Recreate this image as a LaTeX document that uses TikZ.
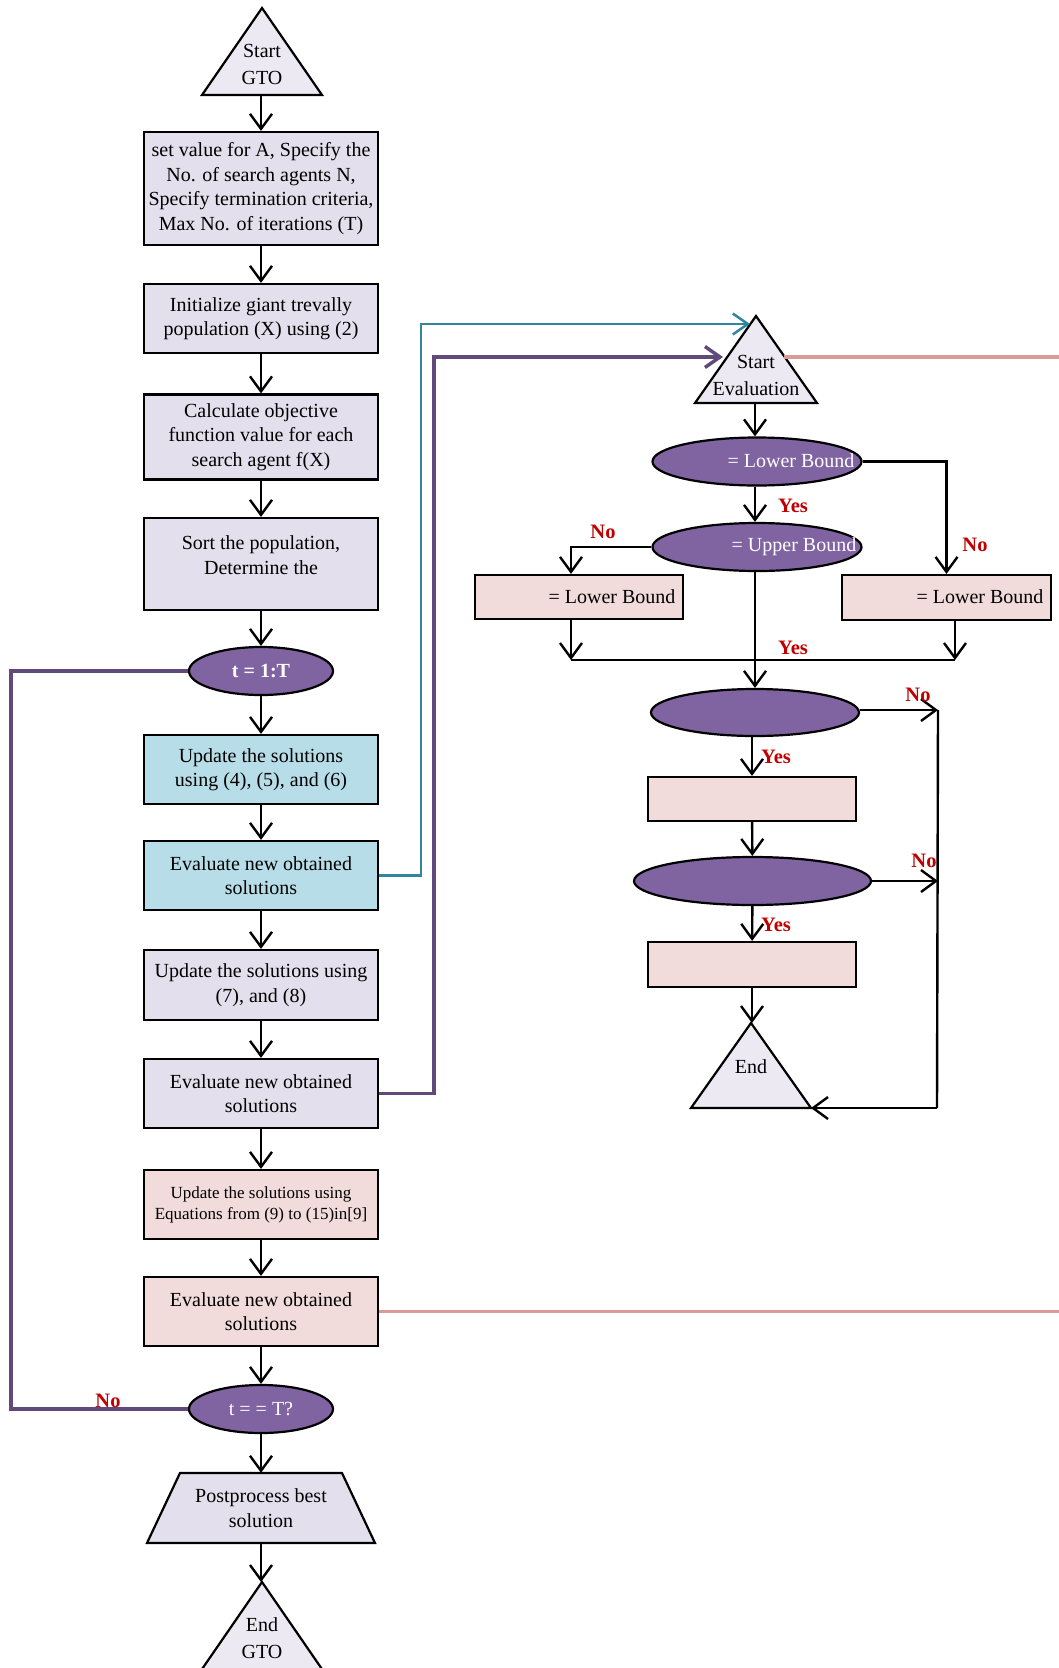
\documentclass[tikz,border=0pt]{standalone}
\usepackage{fontspec}
\setmainfont{Liberation Serif}
\usetikzlibrary{arrows.meta,shapes.geometric}
\definecolor{lav}{HTML}{E4DFEC}
\definecolor{trif}{HTML}{ECE9F2}
\definecolor{cyanf}{HTML}{B7DEE8}
\definecolor{pinkf}{HTML}{F2DCDB}
\definecolor{purf}{HTML}{8064A2}
\definecolor{cyl}{HTML}{31859C}
\definecolor{pul}{HTML}{604A7B}
\definecolor{pil}{HTML}{DA9A98}
\definecolor{redl}{HTML}{C00000}
\tikzset{
  fs/.style={font=\fontsize{20}{24.5}\selectfont},
  box/.style={draw=black, line width=2.2pt, fill=lav, minimum width=234pt, align=center, inner sep=2pt, fs},
  cbox/.style={box, fill=cyanf},
  pbox/.style={box, fill=pinkf},
  rbox/.style={draw=black, line width=2.2pt, fill=pinkf, minimum width=208pt, minimum height=44pt, inner sep=0pt},
  ell/.style={ellipse, draw=black, line width=2.2pt, fill=purf, text=white, inner sep=0pt, fs},
  tri/.style={draw=black, line width=2.2pt, fill=trif, line join=miter},
  ttxt/.style={fs, align=center, inner sep=0pt, font=\fontsize{20}{27}\selectfont},
  lne/.style={draw=black, line width=2.4pt},
  arr/.style={lne, -{Straight Barb[length=15pt,width=22pt]}},
  cyarr/.style={draw=cyl, line width=2.5pt, -{Straight Barb[length=15pt,width=21pt]}},
  puarr/.style={draw=pul, line width=3.5pt, -{Straight Barb[length=15pt,width=21pt]}},
  puline/.style={draw=pul, line width=3.5pt},
  piline/.style={draw=pil, line width=3.2pt},
  lbl/.style={text=redl, font=\fontsize{20.5}{24}\selectfont\bfseries, inner sep=0pt},
  wtxt/.style={text=white, fs, inner sep=0pt}
}
\begin{document}
\begin{tikzpicture}[x=1pt,y=-1pt]
\path[use as bounding box] (0,0) rectangle (1059,1668);

% ---------- left column ----------
\draw[tri] (262,8) -- (322,95) -- (202,95) -- cycle;
\node[ttxt] (sgto) at (262,64) {Start\\GTO};
\coordinate (sgtoB) at (261,95);

\node[box, minimum height=113pt] (b1) at (261,188.5) {set value for A, Specify the\\No. of search agents N,\\Specify termination criteria,\\Max No. of iterations (T)};
\node[box, minimum height=69pt] (b2) at (261,318.5) {Initialize giant trevally\\population (X) using (2)};
\node[box, minimum height=85pt] (b3) at (261,437) {Calculate objective\\function value for each\\search agent f(X)};
\node[box, minimum height=92pt, label={[fs, align=center, yshift=9pt]center:{Sort the population,\\Determine the}}] (b4) at (261,564) {};
\node[ell, minimum width=144pt, minimum height=48pt] (t1) at (261,671) {\textbf{t = 1:T}};
\node[cbox, minimum height=69pt] (c1) at (261,769.5) {Update the solutions\\using (4), (5), and (6)};
\node[cbox, minimum height=69pt] (c2) at (261,875.5) {Evaluate new obtained\\solutions};
\node[box, minimum height=70pt] (b5) at (261,985) {Update the solutions using\\(7), and (8)};
\node[box, minimum height=69pt] (b6) at (261,1093.5) {Evaluate new obtained\\solutions};
\node[pbox, minimum height=69pt, font=\fontsize{17}{21}\selectfont] (p1) at (261,1204.5) {Update the solutions using\\Equations from (9) to (15)in[9]};
\node[pbox, minimum height=69pt] (p2) at (261,1311.5) {Evaluate new obtained\\solutions};
\node[ell, minimum width=144pt, minimum height=48pt] (t2) at (261,1409) {t = = T?};

\draw[tri, fill=lav] (147,1543) -- (180,1473) -- (342,1473) -- (375,1543) -- cycle;
\node[fs, align=center, minimum height=70pt, inner sep=0pt] (post) at (261,1508) {Postprocess best\\solution};

\draw[tri] (262,1582) -- (324,1672) -- (200,1672) -- cycle;
\node[ttxt] (egto) at (262,1638) {End\\GTO};
\coordinate (egtoA) at (261,1582);

\draw[arr] (sgtoB) -- (b1);
\draw[arr] (b1) -- (b2);
\draw[arr] (b2) -- (b3);
\draw[arr] (b3) -- (b4);
\draw[arr] (b4) -- (t1);
\draw[arr] (t1) -- (c1);
\draw[arr] (c1) -- (c2);
\draw[arr] (c2) -- (b5);
\draw[arr] (b5) -- (b6);
\draw[arr] (b6) -- (p1);
\draw[arr] (p1) -- (p2);
\draw[arr] (p2) -- (t2);
\draw[arr] (t2) -- (post);
\draw[arr] (post) -- (egtoA);

% loop back
\coordinate (lp) at (11,671);
\draw[puline] (t1.west) -- (lp) |- (t2.west);
\node[lbl] (no0) at (108,1401) {No};

% ---------- right column ----------
\draw[tri] (756,316) -- (817,403) -- (695,403) -- cycle;
\node[ttxt] (sev) at (756,375) {Start\\Evaluation};
\coordinate (sevB) at (755,403);
\coordinate (cyEnd) at (750,324);
\coordinate (puEnd) at (723,357);
\coordinate (piStart) at (784,357);
\coordinate (rEdge) at (1060,357);

\node[ell, minimum width=209pt, minimum height=48pt] (e1) at (757,461.5) {};
\node[wtxt] (e1t) at (791,461) {= Lower Bound};
\node[ell, minimum width=209pt, minimum height=48pt] (e2) at (757,547) {};
\node[wtxt] (e2t) at (794,547) {= Upper Bound};

\node[rbox] (lb) at (579,597) {};
\node[fs, inner sep=0pt] (lbt) at (612,597) {= Lower Bound};
\node[rbox, minimum width=209pt, minimum height=45pt] (rb) at (946.5,597.5) {};
\node[fs, inner sep=0pt] (rbt) at (980,597) {= Lower Bound};

\node[ell, minimum width=208pt, minimum height=47pt] (e3) at (755,712.5) {};
\node[rbox] (pb3) at (752,799) {};
\node[ell, minimum width=237pt, minimum height=48pt] (e4) at (752.5,881) {};
\node[rbox, minimum height=45pt] (pb4) at (752,964.5) {};

\draw[tri] (751,1023) -- (811,1108) -- (691,1108) -- cycle;
\node[fs, inner sep=0pt] (endt) at (751,1067) {End};
\coordinate (endA) at (752,1023);
\coordinate (endR) at (811,1108);

\draw[arr] (sevB) -- (sevB |- e1.north);
\draw[arr] (e1.south -| sevB) -- (e2.north -| sevB);
\draw[arr] (e1.east) -| (rb.north);
\coordinate (lx) at (571,597);
\draw[arr] (e2.west) -| (lb.north -| lx);
\coordinate (mL) at (571,660);
\coordinate (mR) at (955,660);
\draw[arr] (lb.south -| mL) -- (mL);
\draw[arr] (rb.south -| mR) -- (mR);
\draw[lne] (mL) -- (mR);
\draw[arr] (e2.south -| sevB) -- (e3.north -| sevB);

\draw[arr] (e3.south -| pb3) -- (pb3);
\draw[arr] (pb3) -- (e4);
\draw[arr] (e4) -- (pb4);
\draw[arr] (pb4) -- (endA);

\coordinate (nx) at (938,710);
\coordinate (nxB) at (937,1108);
\draw[arr] (e3.east |- nx) -- (nx);
\draw[arr] (e4.east) -- (e4.east -| nx);
\draw[lne] (nx) -- (nxB);
\draw[arr] (nxB) -- (endR);

\node[lbl] (y1) at (793,506) {Yes};
\node[lbl] (n1) at (603,532) {No};
\node[lbl] (n2) at (975,545) {No};
\node[lbl] (y2) at (793,648) {Yes};
\node[lbl] (n3) at (918,695) {No};
\node[lbl] (y3) at (776,757) {Yes};
\node[lbl] (n4) at (924,861) {No};
\node[lbl] (y4) at (776,925) {Yes};

% ---------- cross connectors ----------
\coordinate (cyX) at (421,324);
\draw[cyarr] (c2.east) -| (cyX) -- (cyEnd);
\coordinate (puX) at (434,357);
\draw[puarr] (b6.east) -| (puX) -- (puEnd);
\draw[piline] (piStart) -- (rEdge);
\draw[piline] (p2.east) -- (p2.east -| rEdge);
\end{tikzpicture}
\end{document}
